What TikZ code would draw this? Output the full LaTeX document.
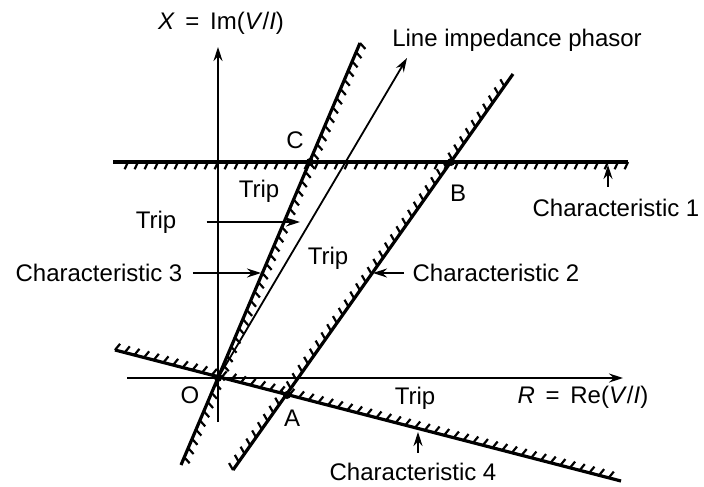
\documentclass[tikz,border=0pt]{standalone}
\usepackage{fontspec}
\setmainfont{Liberation Sans}
\usetikzlibrary{arrows.meta,calc,decorations.pathreplacing}

\begin{document}
\begin{tikzpicture}[x=.5pt,y=-.5pt,>={Stealth[length=7pt,width=4.5pt]},
  font=\fontsize{12}{14}\selectfont,
  axis/.style={->,line width=.7pt},
  chr/.style={line width=1.6pt,postaction={draw,line width=1.1pt,decorate,
    decoration={border,segment length=5pt,amplitude=4pt,angle=65}}},
  pointer/.style={->,line width=.6pt},
  lbl/.style={inner sep=1pt}]
\useasboundingbox (0,0) rectangle (704,486);
\coordinate (O) at (218,378);
\coordinate (A) at (287,395);
\coordinate (B) at (451,162);
\coordinate (C) at (310,162);
\coordinate (ybot) at (218,422);
\coordinate (ytop) at (218,47);
\coordinate (xlft) at (127,378);
\coordinate (xrgt) at (623,378);
\coordinate (ph) at (407,58);
\draw[axis] (ybot)--(ytop);
\draw[axis] (xlft)--(xrgt);
\coordinate (c1a) at (628,162);
\coordinate (c1b) at (113,162);
\coordinate (c2a) at (233,470);
\coordinate (c2b) at (513,74);
\coordinate (c3a) at (360,43);
\coordinate (c3b) at (181,465);
\coordinate (c4a) at (115,350);
\coordinate (c4b) at (621,481);
\draw[chr] (c1a)--(c1b);
\draw[chr] (c2a)--(c2b);
\draw[chr] (c3a)--(c3b);
\draw[chr] (c4a)--(c4b);
\draw[->,line width=.9pt] (O)--(ph);
\foreach \p in {O,A,B,C}
  \fill (\p) circle (4);
\node[lbl] (xlab) at (221,23) {\textit{X} \,=\, Im(\textit{V}/\textit{I})};
\node[lbl] (phlab) at (517,40) {Line impedance phasor};
\node[lbl] (rlab) at (583,397) {\textit{R} \,=\, Re(\textit{V}/\textit{I})};
\node (lC) at (295,140) {C};
\node (lB) at (458,193) {B};
\node (lO) at (190,395) {O};
\node (lA) at (292,418) {A};
\node[lbl] (ch1) at (616,208) {Characteristic 1};
\node[lbl] (ch2) at (496,273) {Characteristic 2};
\node[lbl] (ch3) at (99,273) {Characteristic 3};
\node[lbl] (ch4) at (413,472) {Characteristic 4};
\node[lbl] (trip1) at (259,191) {Trip};
\node[lbl] (trip2) at (156,222) {Trip};
\node[lbl] (trip3) at (328,258) {Trip};
\node[lbl] (trip4) at (415,398) {Trip};
\coordinate (p1) at (608,165);
\coordinate (p2) at (373,273);
\coordinate (p3) at (261,273);
\coordinate (p4) at (418,432);
\coordinate (pt) at (300,222);
\draw[pointer,shorten <=5pt] (ch1.north -| p1)--(p1);
\draw[pointer,shorten <=3pt] (ch2.west)--(p2);
\draw[pointer,shorten <=4pt] (ch3.east)--(p3);
\draw[pointer,shorten <=4pt] (ch4.north -| p4)--(p4);
\draw[pointer,shorten <=14pt] (trip2.east)--(pt);
\end{tikzpicture}
\end{document}
